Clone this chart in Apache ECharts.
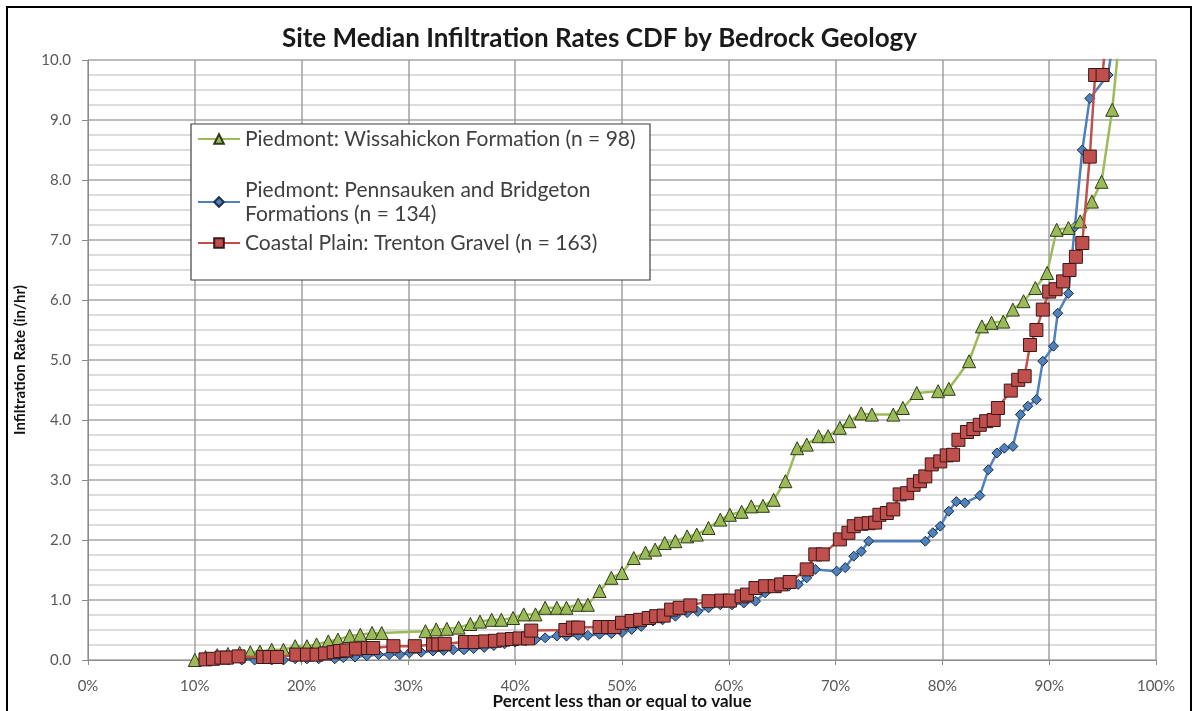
<!DOCTYPE html>
<html>
<head>
<meta charset="utf-8">
<script src="https://cdn.jsdelivr.net/npm/echarts@6/dist/echarts.min.js"></script>
<style>
html,body{margin:0;padding:0;background:#fff;}
#chart{width:1199px;height:711px;}
</style>
</head>
<body>
<div id="chart"></div>
<script>
// ---- Data (percent less than or equal, infiltration rate in/hr) ----
const title = 'Site Median Infiltration Rates CDF by Bedrock Geology';
const xAxisName = 'Percent less than or equal to value';
const yAxisName = 'Infiltration Rate (in/hr)';
const xTicks = [0,10,20,30,40,50,60,70,80,90,100];

const wissName = 'Piedmont: Wissahickon Formation (n = 98)';
const wissX = [10.0,11.0,12.1,13.1,14.2,15.2,16.1,17.2,18.3,19.4,20.5,21.4,22.5,23.4,24.5,25.5,26.6,27.5,
  31.6,32.6,33.6,34.7,35.8,36.7,37.8,38.7,39.8,40.8,41.9,42.8,43.9,44.8,45.9,46.8,47.9,49.0,50.0,51.1,52.2,
  53.1,54.0,55.0,56.1,57.0,58.1,59.2,60.1,61.2,62.1,63.2,64.2,65.3,66.4,67.3,68.4,69.3,70.4,71.3,72.4,73.4,
  75.4,76.3,77.6,79.6,80.6,82.5,83.7,84.6,85.7,86.6,87.6,88.7,89.8,90.7,91.8,92.9,94.0,94.9,95.9,97.2];
const wissY = [0.00,0.05,0.08,0.10,0.12,0.13,0.14,0.17,0.17,0.23,0.23,0.26,0.31,0.34,0.40,0.42,0.45,0.45,
  0.48,0.51,0.52,0.54,0.60,0.64,0.67,0.67,0.70,0.76,0.76,0.87,0.87,0.87,0.92,0.92,1.15,1.37,1.45,1.70,1.79,
  1.84,1.95,1.98,2.06,2.09,2.20,2.34,2.42,2.47,2.56,2.57,2.67,2.98,3.53,3.59,3.73,3.73,3.87,3.98,4.11,4.09,
  4.09,4.20,4.45,4.48,4.52,4.98,5.56,5.62,5.64,5.84,5.98,6.20,6.45,7.17,7.20,7.31,7.64,7.97,9.17,11.50];

const pennName = 'Piedmont: Pennsauken and Bridgeton\nFormations (n = 134)';
const pennX = [10.8,12.0,13.2,14.4,15.6,17.2,18.3,19.4,20.5,21.6,23.1,23.9,25.0,26.1,27.2,28.2,29.2,30.1,31.2,
  32.3,33.3,34.2,35.2,36.1,37.1,38.0,39.0,40.0,41.0,41.9,42.8,43.9,44.8,45.9,46.8,47.9,49.0,50.0,50.9,51.8,
  52.9,53.8,55.0,56.1,57.1,58.1,59.2,60.3,61.4,62.5,63.4,64.5,65.6,66.5,67.3,68.1,70.1,70.9,71.7,72.4,73.1,
  78.4,79.1,79.8,80.6,81.3,82.1,83.5,84.3,85.1,85.8,86.6,87.3,88.0,88.8,89.4,90.4,90.8,91.8,92.4,93.1,93.8,
  95.5,96.6];
const pennY = [0.00,0.00,0.00,0.00,0.00,0.00,0.00,0.02,0.02,0.02,0.02,0.04,0.05,0.07,0.09,0.09,0.09,0.12,0.13,
  0.15,0.16,0.17,0.17,0.19,0.21,0.24,0.27,0.30,0.32,0.34,0.37,0.40,0.40,0.41,0.41,0.43,0.44,0.46,0.51,0.56,
  0.65,0.67,0.73,0.79,0.81,0.87,0.92,0.92,0.95,0.98,1.12,1.20,1.23,1.26,1.37,1.51,1.48,1.54,1.73,1.81,1.98,
  1.98,2.12,2.23,2.48,2.64,2.62,2.74,3.17,3.45,3.53,3.56,4.09,4.23,4.34,4.98,5.23,5.78,6.11,7.22,8.50,9.36,
  9.75,11.00];

const trentName = 'Coastal Plain: Trenton Gravel (n = 163)';
const trentX = [11.0,11.7,12.5,13.0,14.1,16.4,17.0,17.7,19.5,20.5,21.4,22.2,23.0,23.6,24.2,25.1,26.2,26.7,28.6,
  30.6,32.3,32.8,33.4,35.3,36.2,37.2,38.1,38.9,39.7,40.4,41.2,41.5,44.7,45.4,45.9,47.9,48.7,49.3,50.0,50.9,
  51.7,52.5,53.2,53.9,54.6,55.4,56.4,58.1,59.3,60.1,61.2,61.7,62.5,63.4,64.3,64.9,65.7,67.3,68.1,68.8,70.4,
  71.2,71.7,72.4,73.1,73.7,74.1,74.8,75.4,76.0,76.7,77.3,77.9,78.4,79.0,79.8,80.4,81.0,81.5,82.3,82.9,83.5,
  84.1,84.8,85.2,86.4,87.1,87.7,88.2,88.8,89.4,90.0,90.6,91.3,91.9,92.5,93.1,93.8,94.3,95.0,95.6];
const trentY = [0.01,0.02,0.04,0.04,0.06,0.05,0.05,0.05,0.09,0.09,0.09,0.11,0.13,0.15,0.16,0.19,0.20,0.20,0.23,
  0.23,0.26,0.26,0.27,0.30,0.30,0.31,0.32,0.34,0.35,0.36,0.36,0.49,0.50,0.54,0.54,0.55,0.55,0.55,0.62,0.65,
  0.67,0.70,0.73,0.74,0.84,0.87,0.91,0.98,0.99,0.99,1.06,1.09,1.20,1.23,1.23,1.26,1.30,1.51,1.76,1.76,2.01,
  2.12,2.23,2.27,2.28,2.29,2.42,2.45,2.51,2.76,2.78,2.92,2.98,3.06,3.26,3.31,3.41,3.42,3.67,3.80,3.85,3.92,
  3.98,4.00,4.20,4.49,4.67,4.73,5.25,5.50,5.84,6.14,6.18,6.31,6.50,6.72,6.95,8.39,9.75,9.75,11.00];

const pairs = (xs, ys) => xs.map((x, i) => [x, ys[i]]);

const FONT = 'Lato, "Open Sans", sans-serif';
const chart = echarts.init(document.getElementById('chart'), null, {renderer: 'canvas'});

const legendText = {fontFamily: FONT, fontSize: 21, color: '#404040', lineHeight: 24};
const mkLegend = (name, top, extra) => Object.assign({
  data: [name], left: 197, top: top, orient: 'vertical', itemWidth: 42, itemHeight: 12, itemGap: 0,
  padding: 0, selectedMode: false,
  textStyle: Object.assign({}, legendText)
}, extra || {});

chart.setOption({
  animation: false,
  backgroundColor: '#ffffff',
  title: {
    text: title, left: 'center', top: 21,
    textStyle: {fontFamily: FONT, fontWeight: 'bold', fontSize: 26, color: '#1a1a1a'}
  },
  graphic: [
    {type: 'rect', shape: {x: 7, y: 7, width: 1184, height: 720},
     style: {fill: 'none', stroke: '#000', lineWidth: 2}, silent: true, z: 100},
    {type: 'rect', shape: {x: 191, y: 124, width: 459, height: 156},
     style: {fill: '#fff', stroke: '#404040', lineWidth: 1.2}, silent: true, z: 5}
  ],
  legend: [
    mkLegend(wissName, 127, {z: 10}),
    mkLegend(pennName, 166, {z: 10, textStyle: Object.assign({}, legendText, {padding: [24, 0, 0, 0]})}),
    mkLegend(trentName, 231, {z: 10})
  ],
  grid: {left: 88, right: 43, top: 60, bottom: 51, containLabel: false, outerBoundsMode: 'none'},
  xAxis: {
    type: 'value', min: 0, max: 100, interval: 10,
    name: xAxisName, nameLocation: 'middle', nameGap: 33, nameMoveOverlap: false,
    nameTextStyle: {fontFamily: FONT, fontWeight: 'bold', fontSize: 17, color: '#111'},
    axisLine: {show: true, lineStyle: {color: '#8c8c8c', width: 1}},
    axisTick: {show: true, length: 5, lineStyle: {color: '#8c8c8c'}},
    axisLabel: {formatter: '{value}%', fontFamily: FONT, fontSize: 15, color: '#595959', margin: 19},
    splitLine: {show: true, lineStyle: {color: '#a0a0a0', width: 1.5}}
  },
  yAxis: {
    type: 'value', min: 0, max: 10, interval: 1,
    name: yAxisName, nameLocation: 'middle', nameGap: 60, nameRotate: 90, nameMoveOverlap: false,
    nameTextStyle: {fontFamily: FONT, fontWeight: 'bold', fontSize: 15, color: '#111'},
    axisLine: {show: true, lineStyle: {color: '#8c8c8c', width: 1}},
    axisTick: {show: true, length: 6, lineStyle: {color: '#8c8c8c'}},
    axisLabel: {formatter: v => v.toFixed(1), fontFamily: FONT, fontSize: 15, color: '#595959', margin: 17},
    splitLine: {show: true, lineStyle: {color: '#a6a6a6', width: 1.5}},
    minorTick: {show: false, splitNumber: 4},
    minorSplitLine: {show: true, lineStyle: {color: '#dcdcdc', width: 2}}
  },
  series: [
    {name: wissName, type: 'line', data: pairs(wissX, wissY), z: 3,
     symbol: 'triangle', symbolSize: 13,
     lineStyle: {color: '#9BBB59', width: 2.5},
     itemStyle: {color: '#9BBB59', borderColor: '#2e3b1a', borderWidth: 1}},
    {name: trentName, type: 'line', data: pairs(trentX, trentY), z: 4,
     symbol: 'rect', symbolSize: 13,
     lineStyle: {color: '#C0504D', width: 2.5},
     itemStyle: {color: '#C0504D', borderColor: '#3a1716', borderWidth: 1}},
    {name: pennName, type: 'line', data: pairs(pennX, pennY), z: 2,
     symbol: 'diamond', symbolSize: 10,
     lineStyle: {color: '#4F81BD', width: 2.5},
     itemStyle: {color: '#4F81BD', borderColor: '#1c2f47', borderWidth: 1}}
  ]
});
</script>
</body>
</html>
